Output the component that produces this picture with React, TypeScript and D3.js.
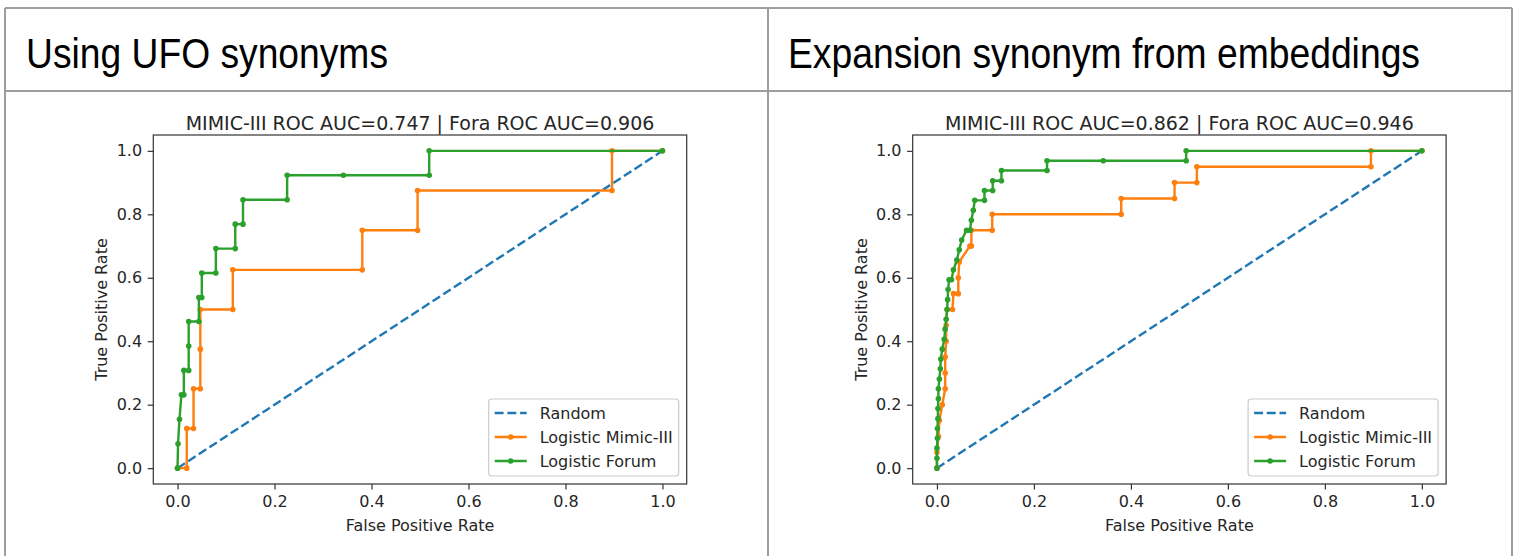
import React, { useEffect, useRef } from 'react';
import * as d3 from 'd3';

const WIDTH = 1517;
const HEIGHT = 556;

const headers = ['Using UFO synonyms', 'Expansion synonym from embeddings'];
const titles = [
  'MIMIC-III ROC AUC=0.747 | Fora ROC AUC=0.906',
  'MIMIC-III ROC AUC=0.862 | Fora ROC AUC=0.946'
];
const seriesNames = ['Random', 'Logistic Mimic-III', 'Logistic Forum'];
const rateTicks = [0, 0.2, 0.4, 0.6, 0.8, 1.0];

const randomFpr = [0, 1];
const randomTpr = [0, 1];

// left panel: UFO synonyms
const leftMimicFpr = [0, 0.019, 0.019, 0.033, 0.033, 0.047, 0.047, 0.047, 0.114, 0.114, 0.381, 0.381, 0.495, 0.495, 0.896, 0.896, 1];
const leftMimicTpr = [0, 0, 0.125, 0.125, 0.25, 0.25, 0.375, 0.5, 0.5, 0.625, 0.625, 0.75, 0.75, 0.875, 0.875, 1, 1];
const leftForumFpr = [0, 0.001, 0.004, 0.008, 0.013, 0.013, 0.023, 0.023, 0.023, 0.044, 0.044, 0.05, 0.05, 0.079, 0.079, 0.119, 0.119, 0.135, 0.135, 0.226, 0.226, 0.342, 0.519, 0.519, 1];
const leftForumTpr = [0, 0.077, 0.154, 0.231, 0.231, 0.308, 0.308, 0.385, 0.462, 0.462, 0.538, 0.538, 0.615, 0.615, 0.692, 0.692, 0.769, 0.769, 0.846, 0.846, 0.923, 0.923, 0.923, 1, 1];

// right panel: expansion from embeddings
const rightMimicFpr = [0, 0, 0.003, 0.005, 0.011, 0.017, 0.017, 0.017, 0.019, 0.019, 0.021, 0.032, 0.034, 0.044, 0.044, 0.046, 0.068, 0.071, 0.071, 0.114, 0.114, 0.38, 0.38, 0.49, 0.49, 0.536, 0.536, 0.895, 0.895, 1];
const rightMimicTpr = [0, 0.05, 0.1, 0.15, 0.2, 0.25, 0.3, 0.35, 0.4, 0.45, 0.5, 0.5, 0.55, 0.55, 0.6, 0.65, 0.7, 0.7, 0.75, 0.75, 0.8, 0.8, 0.85, 0.85, 0.9, 0.9, 0.95, 0.95, 1, 1];
const rightForumFpr = [0, 0, 0, 0.001, 0.001, 0.002, 0.002, 0.003, 0.003, 0.005, 0.007, 0.008, 0.011, 0.015, 0.017, 0.019, 0.021, 0.022, 0.023, 0.025, 0.03, 0.034, 0.041, 0.046, 0.051, 0.061, 0.068, 0.071, 0.075, 0.078, 0.098, 0.098, 0.115, 0.115, 0.133, 0.133, 0.227, 0.227, 0.343, 0.514, 0.514, 1];
const rightForumTpr = [0, 0.031, 0.063, 0.094, 0.125, 0.156, 0.188, 0.219, 0.25, 0.281, 0.313, 0.344, 0.375, 0.406, 0.438, 0.469, 0.5, 0.531, 0.563, 0.594, 0.594, 0.625, 0.656, 0.688, 0.719, 0.75, 0.75, 0.781, 0.813, 0.844, 0.844, 0.875, 0.875, 0.906, 0.906, 0.938, 0.938, 0.969, 0.969, 0.969, 1, 1];

const colors = ['#1f77b4', '#ff7f0e', '#2ca02c'];
const FONT = "'DejaVu Sans', sans-serif";

const App = () => {
  const ref = useRef(null);

  useEffect(() => {
    const svg = d3.select(ref.current);
    svg.selectAll('*').remove();

    svg.append('rect').attr('width', WIDTH).attr('height', HEIGHT).attr('fill', '#fff');

    // table grid
    const grid = svg.append('g').attr('stroke', '#9e9e9e').attr('stroke-width', 2);
    grid.append('line').attr('x1', 5).attr('x2', 1512).attr('y1', 8).attr('y2', 8);
    grid.append('line').attr('x1', 5).attr('x2', 1512).attr('y1', 91).attr('y2', 91);
    [5, 768, 1512].forEach(gx => {
      grid.append('line').attr('x1', gx).attr('x2', gx).attr('y1', 8).attr('y2', HEIGHT);
    });

    const headerX = [26, 788];
    const headerW = [362, 632];
    headers.forEach((h, i) => {
      svg.append('text')
        .attr('x', headerX[i])
        .attr('y', 68)
        .attr('font-family', "'Liberation Sans', Arial, sans-serif")
        .attr('font-size', 43)
        .attr('textLength', headerW[i])
        .attr('lengthAdjust', 'spacingAndGlyphs')
        .attr('fill', '#000')
        .text(h);
    });

    const panels = [
      { off: 0, mimic: [leftMimicFpr, leftMimicTpr], forum: [leftForumFpr, leftForumTpr] },
      { off: 759.4, mimic: [rightMimicFpr, rightMimicTpr], forum: [rightForumFpr, rightForumTpr] }
    ];

    panels.forEach((p, i) => {
      const x = d3.scaleLinear().domain([-0.05, 1.05]).range([153.3 + p.off, 686.7 + p.off]);
      const y = d3.scaleLinear().domain([-0.05, 1.05]).range([484, 135]);
      const [x0, x1] = x.range();
      const [y0, y1] = y.range();
      const g = svg.append('g');

      // axes
      const xAxis = g.append('g')
        .attr('transform', `translate(0, ${y0})`)
        .call(d3.axisBottom(x).tickValues(rateTicks).tickFormat(d3.format('.1f')).tickSize(5.6).tickPadding(5.6).tickSizeOuter(0));
      const yAxis = g.append('g')
        .attr('transform', `translate(${x0}, 0)`)
        .call(d3.axisLeft(y).tickValues(rateTicks).tickFormat(d3.format('.1f')).tickSize(5.6).tickPadding(5.6).tickSizeOuter(0));
      [xAxis, yAxis].forEach(a => {
        a.select('.domain').remove();
        a.attr('font-family', FONT).attr('font-size', 16).attr('color', '#333');
        a.selectAll('line').attr('stroke-width', 1.2);
        a.selectAll('text').attr('fill', '#262626');
      });

      const line = d3.line().x(d => x(d[0])).y(d => y(d[1]));

      // random diagonal
      g.append('path')
        .attr('d', line(d3.zip(randomFpr, randomTpr)))
        .attr('fill', 'none')
        .attr('stroke', colors[0])
        .attr('stroke-width', 2.4)
        .attr('stroke-dasharray', '8.9,3.8');

      [p.mimic, p.forum].forEach((s, k) => {
        const pts = d3.zip(s[0], s[1]);
        g.append('path')
          .attr('d', line(pts))
          .attr('fill', 'none')
          .attr('stroke', colors[k + 1])
          .attr('stroke-width', 2.4)
          .attr('stroke-linejoin', 'round');
        g.selectAll(null)
          .data(pts)
          .enter()
          .append('circle')
          .attr('cx', d => x(d[0]))
          .attr('cy', d => y(d[1]))
          .attr('r', 2.8)
          .attr('fill', colors[k + 1]);
      });

      // spines
      g.append('rect')
        .attr('x', x0).attr('y', y1)
        .attr('width', x1 - x0).attr('height', y0 - y1)
        .attr('fill', 'none').attr('stroke', '#333').attr('stroke-width', 1.2);

      // title and labels
      g.append('text')
        .attr('x', (x0 + x1) / 2).attr('y', 130)
        .attr('text-anchor', 'middle')
        .attr('font-family', FONT).attr('font-size', 19).attr('fill', '#262626')
        .text(titles[i]);
      g.append('text')
        .attr('x', (x0 + x1) / 2).attr('y', 531)
        .attr('text-anchor', 'middle')
        .attr('font-family', FONT).attr('font-size', 16).attr('fill', '#262626')
        .text('False Positive Rate');
      g.append('text')
        .attr('transform', `translate(${x0 - 46}, ${(y0 + y1) / 2}) rotate(-90)`)
        .attr('text-anchor', 'middle')
        .attr('font-family', FONT).attr('font-size', 16).attr('fill', '#262626')
        .text('True Positive Rate');

      // legend
      const lw = 190;
      const lh = 77;
      const lx = x1 - 8 - lw;
      const ly = y0 - 8 - lh;
      const leg = g.append('g');
      leg.append('rect')
        .attr('x', lx).attr('y', ly).attr('width', lw).attr('height', lh)
        .attr('rx', 3)
        .attr('fill', '#fff').attr('fill-opacity', 0.8)
        .attr('stroke', '#cccccc').attr('stroke-width', 1.2);
      seriesNames.forEach((name, k) => {
        const cy = ly + 14 + k * 24;
        const hl = leg.append('line')
          .attr('x1', lx + 6).attr('x2', lx + 38)
          .attr('y1', cy).attr('y2', cy)
          .attr('stroke', colors[k]).attr('stroke-width', 2.4);
        if (k === 0) {
          hl.attr('stroke-dasharray', '8.9,3.8');
        } else {
          leg.append('circle').attr('cx', lx + 22).attr('cy', cy).attr('r', 2.8).attr('fill', colors[k]);
        }
        leg.append('text')
          .attr('x', lx + 51).attr('y', cy + 6)
          .attr('font-family', FONT).attr('font-size', 16).attr('fill', '#262626')
          .text(name);
      });
    });
  }, []);

  return (
    <svg
      ref={ref}
      width={WIDTH}
      height={HEIGHT}
      style={{ position: 'absolute', left: 0, top: 0 }}
    />
  );
};

export default App;
